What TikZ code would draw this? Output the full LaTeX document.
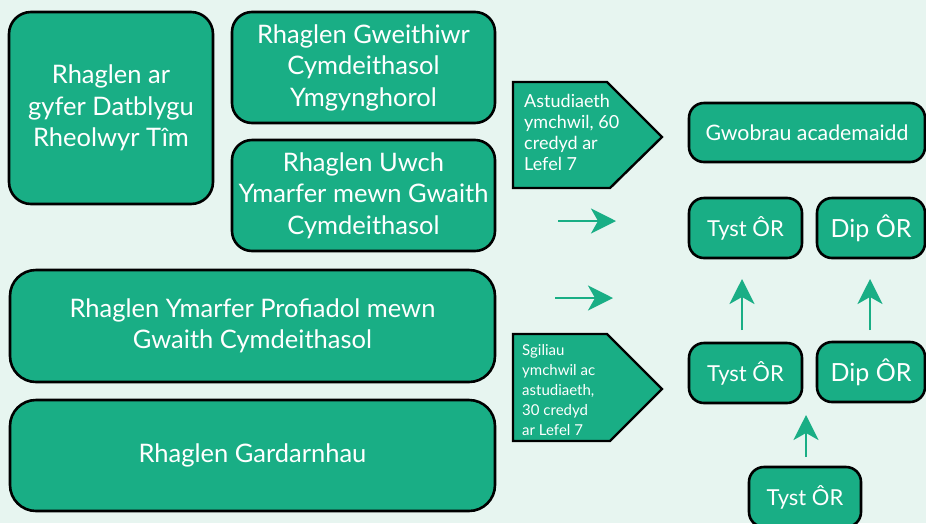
\documentclass[tikz,border=0pt]{standalone}
\usepackage{fontspec}
\setmainfont{Lato}
\usetikzlibrary{arrows.meta}
\definecolor{bg}{HTML}{E7F5F0}
\definecolor{gr}{HTML}{19AE85}
\tikzset{
  box/.style={draw=black,line width=2.6pt,fill=gr,text=white,rounded corners=#1,align=center,inner sep=0pt},
  box/.default=20pt,
  pent/.style={draw=black,line width=2.4pt,fill=gr,line join=miter},
  ptext/.style={text=white,align=left,anchor=north west,inner sep=0pt},
  arr/.style={draw=gr,line width=2.8pt,-{Stealth[length=25pt,width=25pt,inset=7pt]}},
  big/.style={font=\fontsize{25.5}{31.5}\selectfont},
  med/.style={font=\fontsize{22}{26}\selectfont},
  dip/.style={font=\fontsize{25}{28}\selectfont},
}
\begin{document}
\begin{tikzpicture}[x=1pt,y=-1pt]
\fill[bg] (0,0) rectangle (926,523);
\useasboundingbox (0,0) rectangle (926,523);
\node[box=22pt,big,minimum width=204pt,minimum height=192pt] (b1) at (111,108) {Rhaglen ar\\gyfer Datblygu\\Rheolwyr Tîm};
\node[box,big,minimum width=263pt,minimum height=111pt] (b2) at (363.5,67.5) {Rhaglen Gweithiwr\\Cymdeithasol\\Ymgynghorol};
\node[box,big,minimum width=263pt,minimum height=111pt] (b3) at (363.5,195.5) {Rhaglen Uwch\\Ymarfer mewn Gwaith\\Cymdeithasol};
\node[box=26pt,big,minimum width=485pt,minimum height=112pt] (b4) at (252.5,326) {Rhaglen Ymarfer Profiadol mewn\\Gwaith Cymdeithasol};
\node[box=26pt,big,minimum width=485pt,minimum height=111pt] (b5) at (252.5,455.5) {Rhaglen Gardarnhau};
\draw[pent] (513,82) -- (607,82) -- (662,137) -- (610,188) -- (513,188) -- cycle;
\node[ptext,font=\fontsize{18}{21}\selectfont] (p1) at (524,94) {Astudiaeth\\ymchwil, 60\\credyd ar\\Lefel 7};
\draw[pent] (513,334) -- (607,334) -- (662,389) -- (610,441) -- (513,441) -- cycle;
\node[ptext,font=\fontsize{15}{20}\selectfont] (p2) at (522,344) {Sgiliau\\ymchwil ac\\astudiaeth,\\30 credyd\\ar Lefel 7};
\node[box=15pt,font=\fontsize{21.3}{24}\selectfont,minimum width=236pt,minimum height=59pt] (g) at (807,132.5) {Gwobrau academaidd};
\node[box=15pt,med,minimum width=113pt,minimum height=60pt] (t1) at (745.5,228) {Tyst ÔR};
\node[box=15pt,dip,minimum width=108pt,minimum height=60pt] (d1) at (871,228) {Dip ÔR};
\node[box=15pt,med,minimum width=113pt,minimum height=60pt] (t2) at (745.5,373) {Tyst ÔR};
\node[box=15pt,dip,minimum width=108pt,minimum height=60pt] (d2) at (871,372) {Dip ÔR};
\node[box=15pt,med,minimum width=112pt,minimum height=60pt] (t3) at (805,497) {Tyst ÔR};
\coordinate (a1s) at (558,221); \coordinate (a1e) at (616,221);
\coordinate (a2s) at (555,298); \coordinate (a2e) at (613,298);
\coordinate (a3s) at (742,330); \coordinate (a3e) at (742,279);
\coordinate (a4s) at (870,330); \coordinate (a4e) at (870,279);
\coordinate (a5s) at (806,457); \coordinate (a5e) at (806,415);
\draw[arr] (a1s) -- (a1e);
\draw[arr] (a2s) -- (a2e);
\draw[arr] (a3s) -- (a3e);
\draw[arr] (a4s) -- (a4e);
\draw[arr] (a5s) -- (a5e);
\end{tikzpicture}
\end{document}
